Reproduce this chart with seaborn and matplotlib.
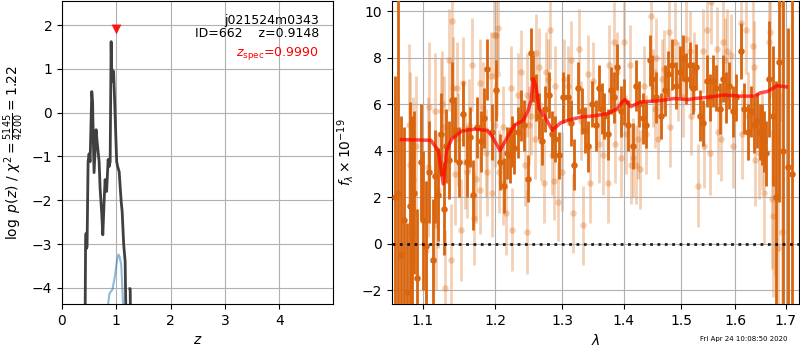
import matplotlib
matplotlib.use("Agg")
import matplotlib.pyplot as plt
import numpy as np
import pandas as pd
import seaborn as sns
from matplotlib.ticker import FixedLocator, NullLocator, FormatStrFormatter

plt.rcParams['font.family'] = ['DejaVu Sans']

# ---- redshift probability, log p(z)
pz_z = [0.424, 0.434, 0.443, 0.452, 0.461, 0.480, 0.498, 0.517, 0.548, 0.563, 0.572, 0.590,
        0.627, 0.646, 0.683, 0.701, 0.729, 0.751, 0.775, 0.793, 0.821, 0.849, 0.867, 0.886,
        0.904, 0.914, 0.923, 0.941, 0.950, 0.969, 0.987, 1.006, 1.024, 1.052, 1.089, 1.107,
        1.135, 1.162, 1.180]
pz_logp = [-5.0, -2.95, -2.76, -3.10, -3.06, -1.12, -0.94, -1.12, 0.48, 0.25, -0.39, -1.37,
           -0.39, -0.66, -1.12, -1.73, -2.26, -2.79, -2.03, -1.53, -1.80, -1.07, -1.23, -1.12,
           1.62, 1.00, 0.98, 0.71, 0.94, 0.25, -0.43, -1.12, -1.23, -1.35, -2.03, -2.26,
           -3.01, -3.40, -5.0]
pz_tail_z = [1.250, 1.255, 1.262]
pz_tail_logp = [-4.02, -4.02, -5.0]

# ---- prior curve
prior_z = [0.825, 0.873, 0.928, 0.978, 1.015, 1.039, 1.061, 1.089, 1.107, 1.131]
prior_logp = [-4.6, -4.13, -4.04, -3.70, -3.35, -3.24, -3.30, -3.47, -3.90, -4.60]

z_spec = 0.999
z_spec_mark = 1.9

# ---- 1D spectrum, primary extraction
dark_lam = [1.064, 1.068, 1.072, 1.076, 1.079, 1.083, 1.086, 1.089, 1.093, 1.098, 1.101, 1.105,
            1.109, 1.114, 1.117, 1.121, 1.124, 1.128, 1.131, 1.135, 1.140, 1.144, 1.149, 1.155,
            1.160, 1.164, 1.169, 1.174, 1.180, 1.184, 1.189, 1.195, 1.201, 1.207, 1.213, 1.217,
            1.221, 1.224, 1.228, 1.233, 1.237, 1.242, 1.248, 1.252, 1.255, 1.260, 1.265, 1.270,
            1.274, 1.280, 1.285, 1.290, 1.295, 1.302, 1.309, 1.314, 1.319, 1.325, 1.332, 1.337,
            1.341, 1.347, 1.354, 1.359, 1.364, 1.368, 1.373, 1.378, 1.384, 1.389, 1.395, 1.400,
            1.407, 1.415, 1.421, 1.426, 1.432, 1.438, 1.444, 1.449, 1.455, 1.464, 1.471, 1.476,
            1.484, 1.491, 1.497, 1.503, 1.509, 1.515, 1.521, 1.526, 1.534, 1.540, 1.546, 1.552,
            1.558, 1.564, 1.571, 1.577, 1.583, 1.589, 1.595, 1.601, 1.611, 1.618, 1.624, 1.630,
            1.637, 1.643, 1.648, 1.653, 1.657, 1.661, 1.666, 1.674, 1.681, 1.687, 1.695, 1.704,
            1.712]
dark_flux = [2.0, 2.2, -0.5, 1.0, -2.1, 1.6, 0.5, 2.2, -1.5, 3.5, 1.0, -0.1,
             3.1, -0.7, 2.9, 2.1, 4.7, 1.5, 4.2, 3.6, 6.2, 4.9, 3.5, 5.6,
             3.5, 4.6, 2.1, 5.0, 4.4, 5.4, 7.5, 4.8, 6.6, 3.5, 2.5, 3.9,
             3.8, 4.4, 4.1, 4.8, 5.5, 5.1, 2.8, 8.2, 7.1, 6.3, 5.5, 4.4,
             5.8, 6.4, 4.7, 4.5, 3.8, 6.3, 6.3, 5.2, 3.4, 6.7, 5.7, 4.9,
             4.2, 6.0, 5.1, 6.7, 5.8, 5.5, 4.7, 6.6, 6.3, 7.6, 5.7, 6.1,
             5.1, 4.2, 6.8, 6.0, 5.4, 5.1, 7.9, 7.1, 6.3, 5.5, 6.6, 7.3,
             7.7, 6.8, 7.4, 8.0, 7.1, 7.7, 6.7, 7.6, 5.5, 5.2, 7.0, 6.3,
             7.0, 6.7, 5.8, 7.1, 6.3, 6.8, 5.7, 6.3, 8.3, 5.8, 4.8, 5.7,
             5.1, 5.3, 4.8, 4.7, 4.4, 3.9, 7.1, 5.5, 2.0, 7.8, 4.0, 3.3,
             3.0]
dark_err = [5.2, 9.0, 6.0, 4.0, 3.0, 4.5, 5.0, 3.5, 3.0, 2.5, 3.0, 2.8,
            2.2, 2.6, 2.0, 2.0, 1.8, 2.0, 1.6, 1.7, 1.6, 1.4, 1.5, 1.4,
            1.5, 1.3, 1.5, 1.3, 1.3, 1.3, 1.3, 1.2, 1.3, 1.2, 1.2, 1.1,
            1.2, 1.1, 1.1, 1.1, 1.1, 1.1, 1.0, 1.1, 1.0, 1.0, 1.0, 1.0,
            1.0, 1.0, 1.0, 1.0, 1.0, 1.1, 1.0, 1.0, 1.1, 1.1, 1.0, 1.0,
            1.1, 1.0, 1.1, 1.0, 1.1, 1.0, 1.1, 1.0, 1.1, 1.0, 1.1, 1.0,
            1.1, 1.0, 1.1, 1.0, 1.1, 1.0, 1.1, 1.0, 1.1, 1.0, 1.1, 1.0,
            1.1, 1.0, 1.1, 1.0, 1.1, 1.0, 1.1, 1.0, 1.1, 1.0, 1.1, 1.0,
            1.1, 1.0, 1.1, 1.0, 1.1, 1.0, 1.1, 1.0, 1.2, 1.1, 1.2, 1.1,
            1.2, 1.2, 1.2, 1.3, 1.3, 1.4, 2.5, 3.0, 5.0, 6.0, 9.0, 6.0,
            9.0]

# ---- 1D spectrum, secondary extraction
light_lam = [1.082, 1.084, 1.088, 1.092, 1.105, 1.107, 1.109, 1.116, 1.118, 1.121, 1.124, 1.126,
             1.129, 1.130, 1.135, 1.138, 1.139, 1.141, 1.144, 1.147, 1.148, 1.152, 1.154, 1.157,
             1.160, 1.163, 1.167, 1.170, 1.173, 1.178, 1.179, 1.183, 1.187, 1.189, 1.194, 1.196,
             1.199, 1.200, 1.201, 1.203, 1.204, 1.206, 1.211, 1.212, 1.216, 1.223, 1.224, 1.233,
             1.238, 1.243, 1.246, 1.247, 1.250, 1.253, 1.258, 1.260, 1.265, 1.268, 1.273, 1.275,
             1.278, 1.282, 1.285, 1.287, 1.290, 1.294, 1.300, 1.303, 1.309, 1.314, 1.318, 1.327,
             1.330, 1.334, 1.342, 1.344, 1.349, 1.359, 1.365, 1.373, 1.376, 1.383, 1.385, 1.389,
             1.396, 1.401, 1.403, 1.411, 1.412, 1.415, 1.421, 1.424, 1.428, 1.435, 1.438, 1.447,
             1.450, 1.453, 1.456, 1.459, 1.465, 1.469, 1.478, 1.479, 1.488, 1.494, 1.503, 1.508,
             1.515, 1.518, 1.523, 1.531, 1.540, 1.542, 1.546, 1.552, 1.555, 1.566, 1.567, 1.574,
             1.577, 1.580, 1.585, 1.592, 1.595, 1.611, 1.614, 1.621, 1.624, 1.634, 1.637, 1.639,
             1.647, 1.653, 1.656, 1.666, 1.669, 1.672, 1.675, 1.679, 1.684, 1.688, 1.692]
light_flux = [5.1, 3.4, 2.8, 4.2, -0.3, 3.3, 5.9, 5.7, 0.8, 2.3, 5.7, 6.0,
              5.0, -1.9, 7.9, -0.7, 9.6, 6.7, 3.0, 6.7, 4.5, 0.6, 6.9, 3.5,
              3.1, 5.1, 7.7, 1.1, 2.8, 2.3, 6.9, 5.9, 3.9, 3.1, 7.2, 2.2,
              9.0, 5.1, 9.0, 7.3, 9.3, 3.1, 5.0, 2.6, 1.3, 6.7, 0.6, 6.4,
              7.4, 3.4, 6.4, 0.5, 5.1, 5.5, 4.5, 8.2, 7.6, 4.4, 2.6, 7.4,
              7.1, 9.2, 3.8, 2.7, 6.8, 1.8, 3.1, 7.1, 6.8, 7.9, 1.3, 8.4,
              5.3, 0.8, 7.3, 2.6, 7.0, 4.3, 3.8, 2.6, 7.7, 8.7, 4.3, 7.4,
              3.7, 8.7, 4.7, 7.7, 3.4, 3.7, 3.4, 4.5, 3.2, 6.8, 4.7, 9.8,
              6.7, 5.8, 8.0, 4.5, 7.1, 7.5, 9.1, 5.0, 8.7, 7.0, 6.3, 8.8,
              8.3, 5.5, 7.4, 2.5, 8.3, 4.2, 9.2, 3.9, 10.4, 8.4, 4.8, 4.5,
              8.7, 7.9, 8.3, 8.1, 4.2, 9.5, 4.7, 9.2, 5.5, 8.5, 7.6, 3.6,
              3.9, 4.4, 2.2, 8.7, 9.1, 1.9, 1.2, 2.6, -0.2, 10.3, 0.5]
light_err = [3.5, 4.0, 3.5, 3.0, 3.0, 3.0, 2.8, 2.5, 2.8, 2.5, 2.3, 2.3,
             2.2, 2.5, 2.2, 2.4, 2.3, 2.2, 2.2, 2.0, 2.0, 2.2, 2.0, 2.0,
             2.0, 2.0, 2.0, 2.0, 1.9, 1.9, 1.9, 1.9, 1.9, 1.9, 1.9, 1.9,
             1.9, 1.8, 1.9, 1.8, 1.9, 1.8, 1.8, 1.8, 1.8, 1.8, 1.8, 1.8,
             1.8, 1.8, 1.8, 1.8, 1.7, 1.7, 1.7, 1.7, 1.7, 1.7, 1.7, 1.7,
             1.7, 1.7, 1.7, 1.7, 1.7, 1.7, 1.7, 1.7, 1.7, 1.7, 1.7, 1.7,
             1.7, 1.7, 1.7, 1.7, 1.7, 1.7, 1.7, 1.7, 1.7, 1.7, 1.7, 1.7,
             1.7, 1.7, 1.7, 1.7, 1.7, 1.7, 1.7, 1.7, 1.7, 1.7, 1.7, 1.7,
             1.7, 1.7, 1.7, 1.7, 1.7, 1.7, 1.7, 1.7, 1.7, 1.7, 1.7, 1.7,
             1.7, 1.7, 1.7, 1.8, 1.8, 1.8, 1.8, 1.8, 1.8, 1.8, 1.8, 1.8,
             1.8, 1.8, 1.8, 1.8, 1.8, 1.9, 1.9, 1.9, 1.9, 2.0, 2.0, 2.0,
             2.0, 2.1, 2.2, 2.5, 2.8, 3.0, 3.5, 4.0, 5.0, 5.0, 6.0]

# ---- best-fit template
model_lam = [1.0725, 1.111, 1.121, 1.1275, 1.132, 1.139, 1.153, 1.171, 1.189, 1.196, 1.207,
             1.218, 1.228, 1.241, 1.248, 1.253, 1.256, 1.260, 1.265, 1.273, 1.285, 1.298,
             1.308, 1.330, 1.351, 1.373, 1.389, 1.397, 1.402, 1.412, 1.429, 1.459, 1.488,
             1.512, 1.525, 1.549, 1.579, 1.611, 1.637, 1.650, 1.663, 1.675, 1.682, 1.701]
model_flux = [4.48, 4.45, 4.00, 2.57, 4.00, 4.50, 4.85, 4.93, 4.87, 4.60, 4.01,
              4.60, 5.10, 5.30, 5.70, 6.20, 7.10, 6.80, 5.80, 5.50, 4.88, 5.20,
              5.30, 5.45, 5.50, 5.60, 5.80, 6.10, 6.20, 5.90, 6.10, 6.15, 6.25,
              6.20, 6.25, 6.30, 6.40, 6.35, 6.35, 6.50, 6.55, 6.70, 6.80, 6.75]

lam_ticks = [1.1, 1.2, 1.3, 1.4, 1.5, 1.6, 1.7]
orange = '#d9650e'

fig = plt.figure(figsize=(8, 3.5), dpi=100)
ax1 = fig.add_axes([0.0775, 0.1314, 0.339, 0.866])
ax2 = fig.add_axes([0.4896, 0.1314, 0.509, 0.866])

# left: p(z)
sns.lineplot(x=pz_z, y=pz_logp, ax=ax1, color='0.25', lw=2, sort=False, estimator=None)
sns.lineplot(x=pz_tail_z, y=pz_tail_logp, ax=ax1, color='0.25', lw=2, sort=False, estimator=None)
sns.lineplot(x=prior_z, y=prior_logp, ax=ax1, color='#1f77b4', alpha=0.5, lw=1.5,
             sort=False, estimator=None)
sns.scatterplot(x=[z_spec], y=[z_spec_mark], ax=ax1, marker='v', color='red', s=50,
                linewidth=0, alpha=0.9, zorder=5)
ax1.set_xlim(0, 4.99)
ax1.set_ylim(-4.37, 2.55)
ax1.set_xticks([0, 1, 2, 3, 4])
ax1.set_yticks([-4, -3, -2, -1, 0, 1, 2])
ax1.grid(True)
ax1.set_xlabel('$z$')
ax1.set_ylabel(r'$\log\ p(z)$ / $\chi^2=\frac{5145}{4200}=1.22$')
ax1.text(0.948, 0.937, 'j021524m0343', transform=ax1.transAxes, ha='right', va='center',
         fontsize=9)
ax1.text(0.948, 0.891, 'ID=662    z=0.9148', transform=ax1.transAxes, ha='right',
         va='center', fontsize=9)
ax1.text(0.948, 0.826, r'$z_\mathrm{spec}$=0.9990', transform=ax1.transAxes, ha='right',
         va='center', fontsize=9, color='red')

# right: spectrum
ax2.errorbar(light_lam, light_flux, yerr=light_err, fmt='none', ecolor=orange, alpha=0.3,
             elinewidth=2.0, zorder=1)
sns.scatterplot(x=light_lam, y=light_flux, ax=ax2, color=orange, alpha=0.3, s=22,
                linewidth=0, zorder=2)
ax2.errorbar(dark_lam, dark_flux, yerr=dark_err, fmt='none', ecolor=orange,
             elinewidth=2.0, zorder=3)
sns.scatterplot(x=dark_lam, y=dark_flux, ax=ax2, color=orange, s=22, linewidth=0, zorder=4)
sns.lineplot(x=model_lam, y=model_flux, ax=ax2, color='red', alpha=0.7, lw=2.5,
             sort=False, estimator=None, zorder=6)
ax2.axhline(0, color='k', ls=':', lw=2, alpha=0.85, zorder=5)
ax2.set_xscale('log')
ax2.set_xlim(1.06, 1.727)
ax2.set_ylim(-2.6, 10.45)
ax2.xaxis.set_major_locator(FixedLocator(lam_ticks))
ax2.xaxis.set_major_formatter(FormatStrFormatter('%.1f'))
ax2.xaxis.set_minor_locator(NullLocator())
ax2.set_yticks([-2, 0, 2, 4, 6, 8, 10])
ax2.grid(True)
ax2.set_xlabel(r'$\lambda$')
ax2.set_ylabel(r'$f_\lambda\times10^{-19}$')

fig.text(787 / 800, 1 - 339 / 350, 'Fri Apr 24 10:08:50 2020', ha='right', va='center',
         fontsize=5)

fig.savefig('out.png', dpi=100)
